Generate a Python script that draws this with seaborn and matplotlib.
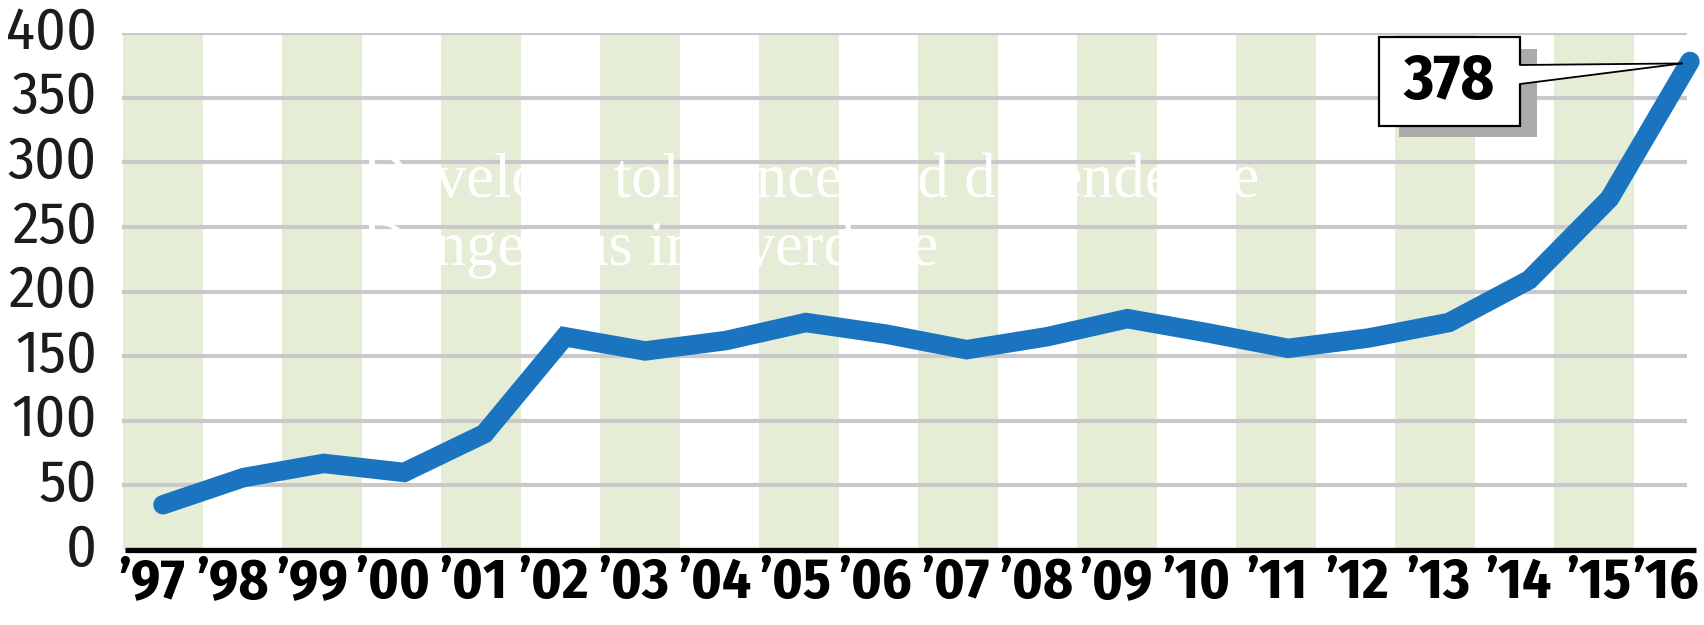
import numpy as np
import pandas as pd
import matplotlib
matplotlib.use("Agg")
import matplotlib.pyplot as plt
import matplotlib.transforms as mtrans
from matplotlib import font_manager as fm
from matplotlib.patches import Rectangle, Polygon
from matplotlib.lines import Line2D
import seaborn as sns

# ---- data ----
years = ["’97", "’98", "’99", "’00", "’01", "’02", "’03", "’04", "’05", "’06",
         "’07", "’08", "’09", "’10", "’11", "’12", "’13", "’14", "’15", "’16"]
counts = [35, 56, 67, 60, 90, 165, 154, 162, 176, 167,
          155, 165, 179, 168, 156, 164, 176, 209, 272, 378]
y_ticks = [0, 50, 100, 150, 200, 250, 300, 350, 400]
callout_value = "378"
overlay_lines = ["Develops tolerance and dependence", "Dangerous in overdose"]

df = pd.DataFrame({"idx": np.arange(len(years)), "count": counts})


def pick(cands):
    for name in cands:
        try:
            fm.findfont(fm.FontProperties(family=name), fallback_to_default=False)
            return name
        except Exception:
            continue
    return "DejaVu Sans"


COND = pick(["Fira Sans Condensed", "Roboto Condensed", "Open Sans Condensed",
             "IBM Plex Sans Condensed", "Archivo Narrow", "PT Sans Narrow",
             "Liberation Sans Narrow", "Pragati Narrow", "Fira Sans Extra Condensed"])
SERIF = pick(["Liberation Serif", "Tinos", "Times New Roman", "DejaVu Serif"])

sns.set_theme(style="white")
plt.rcParams["font.family"] = [COND, "DejaVu Sans"]

W, H, DPI = 1704, 625, 100
fig = plt.figure(figsize=(W / DPI, H / DPI), dpi=DPI)
fig.patch.set_facecolor("white")

ax_left, ax_right, ax_bottom, ax_top = 122, 1696, 550, 33
ax = fig.add_axes([ax_left / W, 1 - ax_bottom / H,
                   (ax_right - ax_left) / W, (ax_bottom - ax_top) / H])
ax.set_facecolor("white")
ax.set_xlim(-0.510, 19.075)
ax.set_ylim(0, 400)

GREEN = "#e5edd6"
GRID = "#c9c9cc"
BLUE = "#1a74c0"

for k in range(10):
    c = 1.978 * k
    ax.axvspan(c - 0.5, c + 0.5, ymin=0, ymax=1, color=GREEN, lw=0, zorder=0)

ax.hlines([t for t in y_ticks if t > 0], -0.51, 18.96, colors=GRID, lw=3.0, zorder=1)

sns.lineplot(data=df, x="idx", y="count", ax=ax, color=BLUE, lw=14,
             zorder=4, clip_on=False)
for ln in ax.lines:
    ln.set_solid_capstyle("round")
    ln.set_solid_joinstyle("miter")
    ln.set_clip_on(False)

ax.hlines(0, -0.47, 19.075, colors="black", lw=3.8, zorder=3, clip_on=False)

for s in ax.spines.values():
    s.set_visible(False)

ax.set_xlabel("")
ax.set_ylabel("")
ax.set_yticks(y_ticks)
ax.set_yticklabels([str(t) for t in y_ticks])
ax.set_xticks(df["idx"])
ax.set_xticklabels(years)
ax.tick_params(axis="y", length=0, pad=18, labelsize=43, labelcolor="#1c1c1c")
ax.tick_params(axis="x", length=0, pad=4, labelsize=41, labelcolor="black")
for lab in ax.get_yticklabels():
    lab.set_fontweight("normal")
    lab.set_verticalalignment("center")
for i, lab in enumerate(ax.get_xticklabels()):
    lab.set_fontweight("bold")
    dx = -24 if i == len(years) - 1 else -11
    lab.set_transform(lab.get_transform() +
                      mtrans.ScaledTranslation(dx / DPI, 0, fig.dpi_scale_trans))


def fx(px):
    return px / W


def fy(py):
    return 1 - py / H


for txt, base in zip(overlay_lines, (197, 265)):
    fig.text(fx(362), fy(base), txt, color="white", fontsize=45,
             family=[SERIF, "DejaVu Serif"], va="baseline", ha="left", zorder=6)

fig.canvas.draw()
tip = ax.transData.transform((df["idx"].iloc[-1], df["count"].iloc[-1]))
tip_px = (tip[0] - 8, H - tip[1] + 2)


def rect_px(x0, y0, x1, y1, **kw):
    return Rectangle((fx(x0), fy(y1)), (x1 - x0) / W, (y1 - y0) / H,
                     transform=fig.transFigure, **kw)


fig.patches.append(rect_px(1399, 49, 1537, 137, facecolor="#ababab", edgecolor="none", zorder=7))
fig.patches.append(rect_px(1379, 37, 1520, 126, facecolor="white", edgecolor="black",
                           lw=1.6, zorder=8))
wedge = Polygon([(fx(1516), fy(65)), (fx(tip_px[0]), fy(tip_px[1])), (fx(1516), fy(84))],
                closed=True, facecolor="white", edgecolor="none",
                transform=fig.transFigure, zorder=9)
fig.patches.append(wedge)
for yy in (65, 84):
    fig.lines.append(Line2D([fx(1520), fx(tip_px[0])], [fy(yy), fy(tip_px[1])],
                            color="black", lw=1.3, transform=fig.transFigure, zorder=10))
fig.text(fx(1449), fy(82), callout_value, fontsize=46, fontweight="bold",
         ha="center", va="center", color="black", zorder=11)

fig.savefig("out.png", dpi=DPI, facecolor="white")
